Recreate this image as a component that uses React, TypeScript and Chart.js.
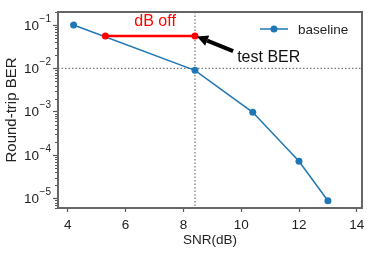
import React, { useEffect, useRef } from "react";
import { Chart, registerables } from "chart.js";

Chart.register(...registerables);

const F = "'Liberation Sans', Arial, sans-serif";

// data
const snr = [4.2, 8.4, 10.4, 12, 13];
const ber = [0.1, 0.009, 0.00097, 0.000072, 0.0000088];
const offSnr = [5.3, 8.4];
const offBer = [0.0557, 0.0557];
const xTicks = [4, 6, 8, 10, 12, 14];
const yExps = [-5, -4, -3, -2, -1];
const refX = 8.4;
const refY = 0.01;
const seriesLabel = "baseline";

const overlay = {
  id: "overlay",
  beforeDatasetsDraw(chart: any) {
    const ctx = chart.ctx;
    const { left, right, top, bottom } = chart.chartArea;
    const xs = chart.scales.x;
    const ys = chart.scales.y;
    ctx.save();
    ctx.strokeStyle = "#777";
    ctx.lineWidth = 1.2;
    ctx.setLineDash([1.5, 2]);
    const px = xs.getPixelForValue(refX);
    ctx.beginPath();
    ctx.moveTo(px, top);
    ctx.lineTo(px, bottom);
    ctx.stroke();
    const py = ys.getPixelForValue(refY);
    ctx.beginPath();
    ctx.moveTo(left, py);
    ctx.lineTo(right, py);
    ctx.stroke();
    ctx.restore();
  },
  afterDraw(chart: any) {
    const ctx = chart.ctx;
    const { left, right, top, bottom } = chart.chartArea;
    const xs = chart.scales.x;
    const ys = chart.scales.y;
    ctx.save();
    // minor ticks on y
    ctx.strokeStyle = "#555";
    ctx.lineWidth = 1;
    for (let e = -6; e <= 0; e++) {
      for (let m = 2; m <= 9; m++) {
        const v = m * Math.pow(10, e);
        if (v < ys.min || v > ys.max) continue;
        const y = Math.round(ys.getPixelForValue(v)) + 0.5;
        ctx.beginPath();
        ctx.moveTo(left - 3, y);
        ctx.lineTo(left, y);
        ctx.stroke();
      }
    }
    // y tick labels with superscripts
    ctx.fillStyle = "#222";
    ctx.textBaseline = "middle";
    for (const e of yExps) {
      const y = ys.getPixelForValue(Math.pow(10, e));
      const sup = "\u2212" + String(-e);
      ctx.font = `10px ${F}`;
      const wSup = ctx.measureText(sup).width;
      ctx.font = `13.5px ${F}`;
      const wBase = ctx.measureText("10").width;
      const xEnd = 51;
      ctx.textAlign = "left";
      ctx.fillText("10", xEnd - wSup - wBase - 0.5, y + 1);
      ctx.font = `10px ${F}`;
      ctx.fillText(sup, xEnd - wSup, y - 6);
    }
    // frame
    ctx.strokeStyle = "#666";
    ctx.lineWidth = 2;
    ctx.strokeRect(left, top, right - left, bottom - top);
    // texts
    ctx.fillStyle = "#ff0000";
    ctx.font = `16px ${F}`;
    ctx.textAlign = "center";
    ctx.textBaseline = "middle";
    ctx.fillText("dB off", xs.getPixelForValue(7.02), ys.getPixelForValue(0.117));
    ctx.fillStyle = "#111";
    ctx.textAlign = "left";
    ctx.fillText("test BER", xs.getPixelForValue(9.86), ys.getPixelForValue(0.018));
    // arrow
    const tx = xs.getPixelForValue(8.4) + 2;
    const ty = ys.getPixelForValue(0.0557) + 0.5;
    const sx = xs.getPixelForValue(9.72);
    const sy = ys.getPixelForValue(0.025);
    const ang = Math.atan2(ty - sy, tx - sx);
    const headL = 11, headW = 5.5;
    const bx = tx - headL * Math.cos(ang);
    const by = ty - headL * Math.sin(ang);
    ctx.strokeStyle = "#000";
    ctx.lineWidth = 4;
    ctx.setLineDash([]);
    ctx.beginPath();
    ctx.moveTo(sx, sy);
    ctx.lineTo(bx, by);
    ctx.stroke();
    ctx.fillStyle = "#000";
    ctx.beginPath();
    ctx.moveTo(tx, ty);
    ctx.lineTo(bx + headW * Math.sin(ang), by - headW * Math.cos(ang));
    ctx.lineTo(bx - headW * Math.sin(ang), by + headW * Math.cos(ang));
    ctx.closePath();
    ctx.fill();
    // legend
    const ly = 29;
    ctx.strokeStyle = "#1f77b4";
    ctx.lineWidth = 1.5;
    ctx.beginPath();
    ctx.moveTo(260, ly);
    ctx.lineTo(288, ly);
    ctx.stroke();
    ctx.fillStyle = "#1f77b4";
    ctx.beginPath();
    ctx.arc(274, ly, 3.5, 0, Math.PI * 2);
    ctx.fill();
    ctx.fillStyle = "#222";
    ctx.font = `13.5px ${F}`;
    ctx.textAlign = "left";
    ctx.textBaseline = "middle";
    ctx.fillText(seriesLabel, 298, ly + 1);
    ctx.restore();
  },
};

export default function App() {
  const ref = useRef<HTMLCanvasElement>(null);
  useEffect(() => {
    document.body.style.margin = "0";
    const chart = new Chart(ref.current as HTMLCanvasElement, {
      type: "scatter",
      data: {
        datasets: [
          {
            label: "off",
            data: offSnr.map((x, i) => ({ x, y: offBer[i] })),
            showLine: true,
            borderColor: "#ff0000",
            backgroundColor: "#ff0000",
            borderWidth: 2.5,
            pointRadius: 3.5,
            pointBorderWidth: 0,
            order: 0,
          },
          {
            label: seriesLabel,
            data: snr.map((x, i) => ({ x, y: ber[i] })),
            showLine: true,
            borderColor: "#1f77b4",
            backgroundColor: "#1f77b4",
            borderWidth: 1.5,
            pointRadius: 3.5,
            pointBorderWidth: 0,
            order: 1,
          },
        ],
      },
      options: {
        responsive: false,
        devicePixelRatio: 1,
        animation: false,
        layout: { padding: { top: 12, right: 12, left: 0, bottom: 0 } },
        plugins: { legend: { display: false }, tooltip: { enabled: false } },
        scales: {
          x: {
            type: "linear",
            min: 3.66,
            max: 14.18,
            afterBuildTicks: (s: any) => {
              s.ticks = xTicks.map((v) => ({ value: v }));
            },
            afterFit: (s: any) => {
              s.height = 45;
            },
            ticks: {
              font: { family: F, size: 13.5 },
              color: "#222",
              padding: 5,
              maxRotation: 0,
              autoSkip: false,
            },
            grid: {
              drawOnChartArea: false,
              drawTicks: true,
              tickLength: 4,
              tickColor: "#555",
              tickWidth: 1.2,
            },
            border: { display: false },
            title: {
              display: true,
              text: "SNR(dB)",
              font: { family: F, size: 13.5 },
              color: "#222",
              padding: { top: 0, bottom: 5 },
            },
          },
          y: {
            type: "logarithmic",
            min: 6e-6,
            max: 0.2,
            afterBuildTicks: (s: any) => {
              s.ticks = yExps.map((e) => ({ value: Math.pow(10, e) }));
            },
            afterFit: (s: any) => {
              s.width = 58;
            },
            ticks: {
              callback: () => "",
              autoSkip: false,
            },
            grid: {
              drawOnChartArea: false,
              drawTicks: true,
              tickLength: 5,
              tickColor: "#555",
              tickWidth: 1.2,
            },
            border: { display: false },
            title: {
              display: true,
              text: "Round-trip BER",
              font: { family: F, size: 15 },
              color: "#222",
              padding: { top: 3, bottom: 0 },
            },
          },
        },
      },
      plugins: [overlay],
    });
    return () => chart.destroy();
  }, []);
  return (
    <div style={{ position: "absolute", left: 0, top: 0, width: 374, height: 253 }}>
      <canvas ref={ref} width={374} height={253} />
    </div>
  );
}
